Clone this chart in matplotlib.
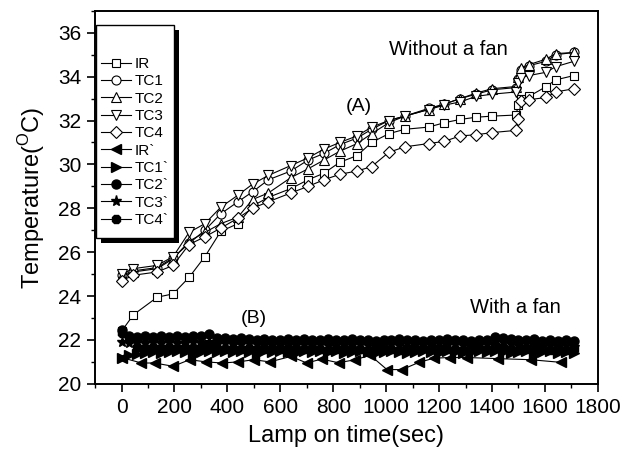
import matplotlib
matplotlib.use("Agg")
import matplotlib.pyplot as plt
from matplotlib.patches import Rectangle
from matplotlib.ticker import MultipleLocator

plt.rcParams['font.family'] = ['Liberation Sans', 'DejaVu Sans']
plt.rcParams['mathtext.fontset'] = 'custom'
plt.rcParams['mathtext.rm'] = 'Liberation Sans'

# (A) without a fan
t_a = [0, 45, 135, 195, 255, 315, 375, 440, 495, 555, 640, 705, 765, 825, 890,
       945, 1010, 1070, 1160, 1220, 1280, 1340, 1400, 1490, 1500, 1510, 1540, 1605, 1640, 1710]
ir = [22.4, 23.15, 23.95, 24.1, 24.85, 25.8, 26.95, 27.3, 28.1, 28.5, 28.9, 29.3, 29.6, 30.1, 30.4,
      31.0, 31.4, 31.6, 31.7, 31.9, 32.05, 32.15, 32.2, 32.25, 32.7, 33.0, 33.1, 33.55, 33.85, 34.05]
tc1 = [24.95, 25.15, 25.3, 25.75, 26.4, 27.0, 27.75, 28.3, 28.75, 29.3, 29.7, 30.2, 30.5, 30.9, 31.2,
       31.6, 32.0, 32.2, 32.55, 32.75, 33.0, 33.2, 33.4, 33.5, 33.9, 34.3, 34.5, 34.7, 35.0, 35.1]
tc2 = [24.9, 25.1, 25.25, 25.7, 26.5, 26.9, 27.3, 27.6, 28.4, 28.7, 29.4, 29.8, 30.2, 30.6, 30.95,
       31.4, 31.9, 32.2, 32.5, 32.75, 33.0, 33.25, 33.45, 33.55, 34.0, 34.4, 34.55, 34.8, 35.05, 35.1]
tc3 = [25.0, 25.25, 25.4, 25.8, 26.9, 27.3, 28.05, 28.6, 29.1, 29.5, 29.95, 30.3, 30.7, 31.0, 31.3,
       31.7, 32.0, 32.2, 32.5, 32.7, 32.85, 33.1, 33.2, 33.3, 33.7, 33.95, 34.05, 34.2, 34.45, 34.7]
tc4 = [24.7, 24.95, 25.1, 25.4, 26.35, 26.7, 27.1, 27.55, 28.0, 28.3, 28.7, 29.0, 29.3, 29.55, 29.7,
       29.9, 30.55, 30.8, 30.95, 31.05, 31.3, 31.35, 31.45, 31.55, 32.05, 32.9, 32.95, 33.05, 33.3, 33.45]

# (B) with a fan
t_ir_b = [0, 75, 125, 195, 257, 320, 380, 440, 500, 560, 640, 700, 756, 820, 882, 940,
          1003, 1060, 1124, 1181, 1240, 1307, 1421, 1546, 1660]
ir_b = [21.2, 20.95, 20.95, 20.8, 21.1, 21.0, 20.95, 21.0, 21.1, 21.0, 21.25, 20.95, 21.13, 20.96, 21.1, 21.3,
        20.65, 20.65, 20.98, 21.17, 21.2, 21.2, 21.15, 21.1, 20.98]
t_b = list(range(0, 1711, 30))
tc1_b = [21.2, 21.3, 21.35, 21.4, 21.45, 21.4, 21.45, 21.5, 21.45, 21.4, 21.45, 21.5, 21.45, 21.5, 21.45,
         21.5, 21.45, 21.4, 21.5, 21.45, 21.5, 21.45, 21.4, 21.5, 21.45, 21.5, 21.45, 21.5, 21.4, 21.45,
         21.5, 21.45, 21.4, 21.45, 21.5, 21.45, 21.4, 21.45, 21.5, 21.45, 21.4, 21.5, 21.45, 21.4, 21.45,
         21.5, 21.45, 21.5, 21.45, 21.4, 21.45, 21.5, 21.4, 21.45, 21.5, 21.4, 21.45, 21.4]
tc2_b = [22.45, 22.2, 22.15, 22.2, 22.15, 22.2, 22.15, 22.2, 22.15, 22.2, 22.2, 22.25, 22.1, 22.1, 22.05,
         22.1, 22.05, 22.0, 22.05, 22.0, 22.0, 22.05, 22.0, 22.05, 22.0, 22.0, 22.05, 22.0, 22.0, 22.05,
         22.0, 22.0, 21.95, 22.0, 22.0, 22.05, 22.0, 22.0, 21.95, 22.0, 22.0, 22.05, 22.0, 22.0, 21.95,
         22.0, 22.0, 22.15, 22.1, 22.05, 22.0, 22.0, 22.05, 21.95, 22.0, 21.95, 22.0, 21.95]
tc3_b = [21.9, 21.85, 21.9, 21.85, 21.9, 21.85, 21.9, 21.85, 21.85, 21.9, 21.85, 21.9, 21.8, 21.85, 21.8,
         21.8, 21.85, 21.8, 21.75, 21.8, 21.75, 21.8, 21.75, 21.8, 21.75, 21.8, 21.75, 21.75, 21.8, 21.75,
         21.8, 21.75, 21.7, 21.75, 21.8, 21.75, 21.7, 21.75, 21.8, 21.75, 21.7, 21.75, 21.8, 21.75, 21.7,
         21.75, 21.8, 21.95, 21.9, 21.8, 21.75, 21.7, 21.75, 21.7, 21.75, 21.7, 21.75, 21.7]
tc4_b = [22.3, 22.05, 21.7, 21.65, 21.7, 21.65, 21.7, 21.65, 21.7, 21.65, 21.7, 21.75, 21.65, 21.6, 21.65,
         21.6, 21.65, 21.6, 21.6, 21.65, 21.6, 21.65, 21.6, 21.6, 21.65, 21.6, 21.55, 21.6, 21.65, 21.6,
         21.6, 21.55, 21.6, 21.65, 21.6, 21.55, 21.6, 21.6, 21.65, 21.6, 21.55, 21.6, 21.6, 21.55, 21.6,
         21.65, 21.6, 21.75, 21.7, 21.6, 21.55, 21.6, 21.65, 21.6, 21.55, 21.6, 21.55, 21.6]

fig = plt.figure(figsize=(6.34, 4.5), dpi=100)
ax = fig.add_axes([0.150, 0.147, 0.793, 0.829])

open_kw = dict(color='black', lw=0.8, markersize=6.5, markerfacecolor='white', markeredgewidth=0.8)
ax.plot(t_a, ir, marker='s', label='IR', **dict(open_kw, markersize=6))
ax.plot(t_a, tc1, marker='o', label='TC1', **open_kw)
ax.plot(t_a, tc2, marker='^', label='TC2', **open_kw)
ax.plot(t_a, tc3, marker='v', label='TC3', **open_kw)
ax.plot(t_a, tc4, marker='D', label='TC4', **dict(open_kw, markersize=6))

fill_kw = dict(color='black', lw=0.8, markersize=6.5)
ax.plot(t_ir_b, ir_b, marker='<', label='IR`', **fill_kw)
ax.plot(t_b, tc1_b, marker='>', label='TC1`', **fill_kw)
ax.plot(t_b, tc2_b, marker='o', label='TC2`', **fill_kw)
ax.plot(t_b, tc3_b, marker='*', label='TC3`', **dict(fill_kw, markersize=8))
ax.plot(t_b, tc4_b, marker='8', label='TC4`', **fill_kw)

ax.set_xlim(-100, 1800)
ax.set_ylim(20, 37)
ax.xaxis.set_major_locator(MultipleLocator(200))
ax.xaxis.set_minor_locator(MultipleLocator(100))
ax.yaxis.set_major_locator(MultipleLocator(2))
ax.yaxis.set_minor_locator(MultipleLocator(1))
ax.tick_params(which='major', direction='out', length=6, width=1.2, labelsize=15, pad=4)
ax.tick_params(which='minor', direction='out', length=3, width=1.0)
for s in ax.spines.values():
    s.set_linewidth(1.4)

ax.set_xlabel('Lamp on time(sec)', fontsize=17, labelpad=6)
ax.set_ylabel(r'Temperature($^{\mathrm{O}}$C)', fontsize=17, labelpad=8)

ax.text(1235, 35.25, 'Without a fan', fontsize=14.5, ha='center', va='center')
ax.text(897, 32.65, '(A)', fontsize=14, ha='center', va='center')
ax.text(1490, 23.47, 'With a fan', fontsize=14.5, ha='center', va='center')
ax.text(500, 23.0, '(B)', fontsize=14, ha='center', va='center')

leg = ax.legend(loc='upper left', bbox_to_anchor=(0.002, 0.962), borderaxespad=0, fontsize=11,
                title=' ', title_fontsize=18, frameon=False, handlelength=2.0,
                handletextpad=0.25, labelspacing=0.22, borderpad=0.3)
leg.set_zorder(6)

# legend frame with extra space at the bottom, plus the thick black drop shadow
fig.canvas.draw()
bb = leg.get_window_extent()
extra = 6
ax.add_patch(Rectangle((bb.x0 + 5, bb.y0 - extra - 5), bb.width, bb.height + extra, transform=None,
                       facecolor='black', edgecolor='none', zorder=5.8, clip_on=False))
ax.add_patch(Rectangle((bb.x0, bb.y0 - extra), bb.width, bb.height + extra, transform=None,
                       facecolor='white', edgecolor='black', lw=1.0, zorder=5.9, clip_on=False))

fig.savefig('out.png', dpi=100)
